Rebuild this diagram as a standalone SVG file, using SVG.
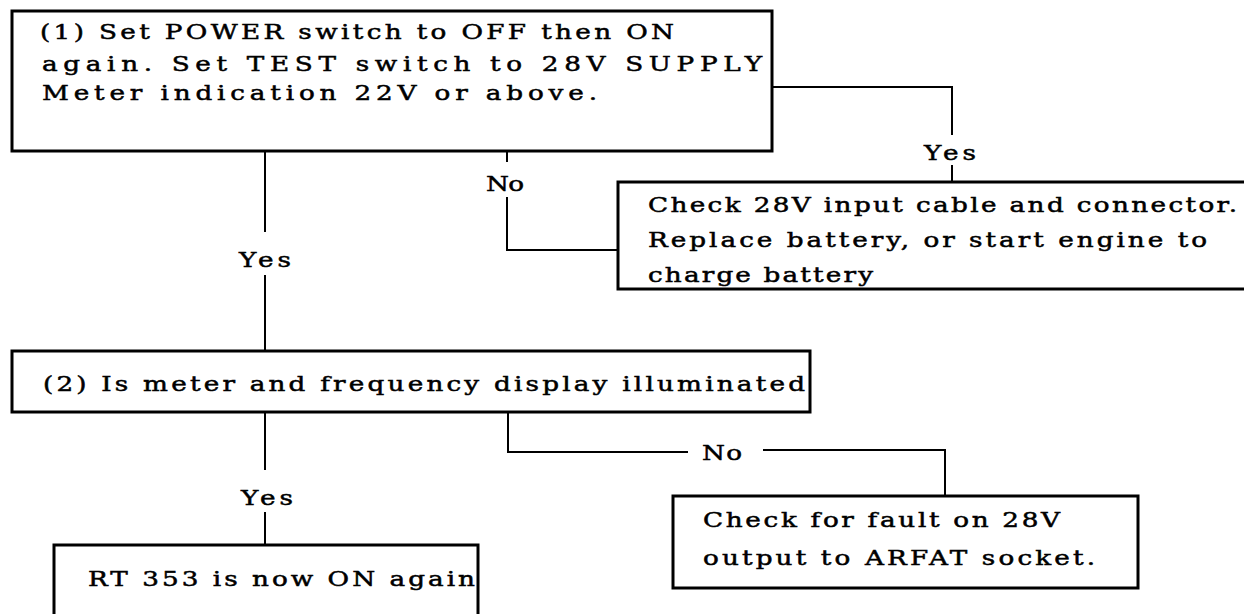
<svg xmlns="http://www.w3.org/2000/svg" width="1244" height="614" viewBox="0 0 1244 614">
<style>
.box{fill:#fff;stroke:#000;stroke-width:3}
.ln{fill:none;stroke:#000;stroke-width:2}
text{font-family:"DejaVu Serif","Liberation Serif",serif;font-size:21px;fill:#000;stroke:#000;stroke-width:0.5}
.m{text-anchor:middle}
</style>
<rect x="0" y="0" width="1244" height="614" fill="#fff"/>
<g id="connectors">
<polyline class="ln" points="772,87 952,87 952,135"/>
<line class="ln" x1="952" y1="165" x2="952" y2="182"/>
<line class="ln" x1="507" y1="150" x2="507" y2="162"/>
<polyline class="ln" points="507,197 507,250 618,250"/>
<line class="ln" x1="265" y1="151" x2="265" y2="232"/>
<line class="ln" x1="265" y1="275" x2="265" y2="351"/>
<line class="ln" x1="265" y1="412" x2="265" y2="470"/>
<line class="ln" x1="265" y1="512" x2="265" y2="545"/>
<polyline class="ln" points="508,412 508,452 688,452"/>
<polyline class="ln" points="763,450 945,450 945,496"/>
<g transform="translate(265,267) scale(1.25,1)"><text class="m" x="0" y="0" textLength="41.6" lengthAdjust="spacing">Yes</text></g>
<g transform="translate(950,160) scale(1.25,1)"><text class="m" x="0" y="0" textLength="41.6" lengthAdjust="spacing">Yes</text></g>
<g transform="translate(505,191) scale(1.25,1)"><text class="m" x="0" y="0" textLength="30.4" lengthAdjust="spacing">No</text></g>
<g transform="translate(267,505) scale(1.25,1)"><text class="m" x="0" y="0" textLength="41.6" lengthAdjust="spacing">Yes</text></g>
<g transform="translate(722,460) scale(1.25,1)"><text class="m" x="0" y="0" textLength="32" lengthAdjust="spacing">No</text></g>
</g>
<g id="node1">
<rect class="box" x="12" y="11" width="760" height="140"/>
<g transform="translate(40,39) scale(1.25,1)"><text x="0" y="0" textLength="507.2" lengthAdjust="spacing">(1) Set POWER switch to OFF then ON</text></g>
<g transform="translate(42,71) scale(1.25,1)"><text x="0" y="0" textLength="576" lengthAdjust="spacing">again.  Set TEST switch to 28V SUPPLY</text></g>
<g transform="translate(42,100) scale(1.25,1)"><text x="0" y="0" textLength="444" lengthAdjust="spacing">Meter indication 22V or above.</text></g>
</g>
<g id="node3">
<rect class="box" x="618" y="182" width="640" height="107"/>
<g transform="translate(648,212) scale(1.25,1)"><text x="0" y="0" textLength="471.2" lengthAdjust="spacing">Check 28V input cable and connector.</text></g>
<g transform="translate(648,247) scale(1.25,1)"><text x="0" y="0" textLength="447.2" lengthAdjust="spacing">Replace battery, or start engine to</text></g>
<g transform="translate(648,282) scale(1.25,1)"><text x="0" y="0" textLength="180" lengthAdjust="spacing">charge battery</text></g>
</g>
<g id="node2">
<rect class="box" x="12" y="351" width="798" height="61"/>
<g transform="translate(43,391) scale(1.25,1)"><text x="0" y="0" textLength="609.6" lengthAdjust="spacing">(2) Is meter and frequency display illuminated</text></g>
</g>
<g id="node4">
<rect class="box" x="54" y="545" width="424" height="80"/>
<g transform="translate(88,586) scale(1.25,1)"><text x="0" y="0" textLength="309.6" lengthAdjust="spacing">RT 353 is now ON again</text></g>
</g>
<g id="node5">
<rect class="box" x="673" y="496" width="465" height="92"/>
<g transform="translate(703,527) scale(1.25,1)"><text x="0" y="0" textLength="285.6" lengthAdjust="spacing">Check for fault on 28V</text></g>
<g transform="translate(703,565) scale(1.25,1)"><text x="0" y="0" textLength="313.6" lengthAdjust="spacing">output to ARFAT socket.</text></g>
</g>
</svg>
